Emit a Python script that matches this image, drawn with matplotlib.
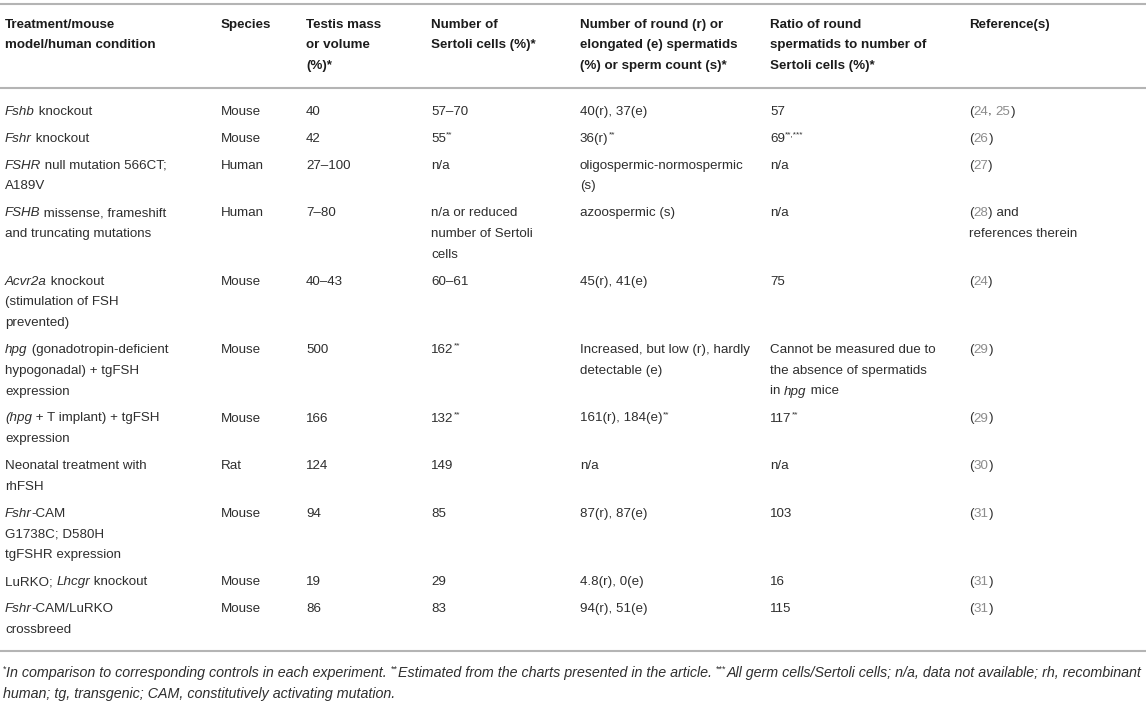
import re
import matplotlib.pyplot as plt

plt.rcParams['font.family'] = ['Liberation Sans', 'DejaVu Sans']

# Marcas en el texto: _cursiva_, ^superindice^, ~referencia en gris~
headers = [
    "Treatment/mouse\nmodel/human condition",
    "Species",
    "Testis mass\nor volume\n(%)*",
    "Number of\nSertoli cells (%)*",
    "Number of round (r) or\nelongated (e) spermatids\n(%) or sperm count (s)*",
    "Ratio of round\nspermatids to number of\nSertoli cells (%)*",
    "Reference(s)",
]

treatments = [
    "_Fshb_ knockout",
    "_Fshr_ knockout",
    "_FSHR_ null mutation 566CT;\nA189V",
    "_FSHB_ missense, frameshift\nand truncating mutations",
    "_Acvr2a_ knockout\n(stimulation of FSH\nprevented)",
    "_hpg_ (gonadotropin-deficient\nhypogonadal) + tgFSH\nexpression",
    "_(hpg_ + T implant) + tgFSH\nexpression",
    "Neonatal treatment with\nrhFSH",
    "_Fshr_-CAM\nG1738C; D580H\ntgFSHR expression",
    "LuRKO; _Lhcgr_ knockout",
    "_Fshr_-CAM/LuRKO\ncrossbreed",
]

species = ["Mouse", "Mouse", "Human", "Human", "Mouse", "Mouse", "Mouse",
           "Rat", "Mouse", "Mouse", "Mouse"]

testis_mass = ["40", "42", "27–100", "7–80", "40–43", "500", "166", "124",
               "94", "19", "86"]

sertoli_cells = ["57–70", "55^**^", "n/a",
                 "n/a or reduced\nnumber of Sertoli\ncells",
                 "60–61", "162^**^", "132^**^", "149", "85", "29", "83"]

spermatids = ["40(r), 37(e)", "36(r)^**^", "oligospermic-normospermic\n(s)",
              "azoospermic (s)", "45(r), 41(e)",
              "Increased, but low (r), hardly\ndetectable (e)",
              "161(r), 184(e)^**^", "n/a", "87(r), 87(e)", "4.8(r), 0(e)",
              "94(r), 51(e)"]

ratio = ["57", "69^**,***^", "n/a", "n/a", "75",
         "Cannot be measured due to\nthe absence of spermatids\nin _hpg_ mice",
         "117^**^", "n/a", "103", "16", "115"]

references = ["(~24~, ~25~)", "(~26~)", "(~27~)", "(~28~) and\nreferences therein",
              "(~24~)", "(~29~)", "(~29~)", "(~30~)", "(~31~)", "(~31~)", "(~31~)"]

footnotes = [
    "^*^_In comparison to corresponding controls in each experiment. _"
    "^**^_Estimated from the charts presented in the article. _"
    "^***^_All germ cells/Sertoli cells; n/a, data not available; rh, recombinant_",
    "_human; tg, transgenic; CAM, constitutively activating mutation._",
]

columns = [treatments, species, testis_mass, sertoli_cells, spermatids,
           ratio, references]

# Posiciones (pixeles)
col_x = [5, 221, 306, 431, 580, 770, 969]
W, H = 1146, 702
size = 9.6
line_h = 20.7
row_gap = 27
body_color = '#2e2e2e'
head_color = '#1c1c1c'
ref_color = '#8c8c8c'
rule_color = '#b4b4b4'

fig = plt.figure(figsize=(W / 100, H / 100), dpi=100)
ax = fig.add_axes([0, 0, 1, 1])
ax.set_xlim(0, W)
ax.set_ylim(H, 0)
ax.axis('off')
renderer = fig.canvas.get_renderer()


def text_width(s, **kw):
    t = ax.text(0, 0, s + '|', **kw)
    w1 = t.get_window_extent(renderer).width
    t.remove()
    t = ax.text(0, 0, '|', **kw)
    w2 = t.get_window_extent(renderer).width
    t.remove()
    return w1 - w2


def draw_rich(x, y, s, fs, weight='normal', color=body_color, draw=True):
    # y es la linea base; con draw=False solo mide
    italic = sup = gray = False
    for tok in re.split(r'([_^~])', s):
        if tok == '_':
            italic = not italic
            continue
        if tok == '^':
            sup = not sup
            continue
        if tok == '~':
            gray = not gray
            continue
        if not tok:
            continue
        kw = dict(fontsize=fs * (0.62 if sup else 1.0),
                  fontstyle='italic' if italic else 'normal',
                  fontweight=weight,
                  color=ref_color if gray else color,
                  va='baseline', ha='left')
        yy = y - (fs * 0.55 if sup else 0)
        if draw:
            ax.text(x, yy, tok, **kw)
        x += text_width(tok, **kw)
    return x


def draw_cell(x, y0, s, fs, weight='normal', color=body_color):
    for i, line in enumerate(s.split('\n')):
        draw_rich(x, y0 + i * line_h + 4.6, line, fs, weight, color)


# Lineas horizontales
for yl in (4, 88, 651):
    ax.plot([0, W], [yl, yl], color=rule_color, lw=1.5, solid_capstyle='butt')

# Encabezado
for x, h in zip(col_x, headers):
    draw_cell(x, 23, h, size, weight='bold', color=head_color)

# Filas
y = 110
for r in range(len(treatments)):
    cells = [col[r] for col in columns]
    for x, c in zip(col_x, cells):
        draw_cell(x, y, c, size)
    n = max(c.count('\n') + 1 for c in cells)
    y += (n - 1) * line_h + row_gap

# Notas al pie (ajustadas al ancho de la tabla)
fs_note = 8.6
w_note = draw_rich(0, 0, footnotes[0], fs_note, draw=False)
fs_note = fs_note * 1136 / w_note
for i, note in enumerate(footnotes):
    draw_rich(3, 673 + i * 21 + 4, note, fs_note, color=body_color)

fig.savefig('out.png', dpi=100)
